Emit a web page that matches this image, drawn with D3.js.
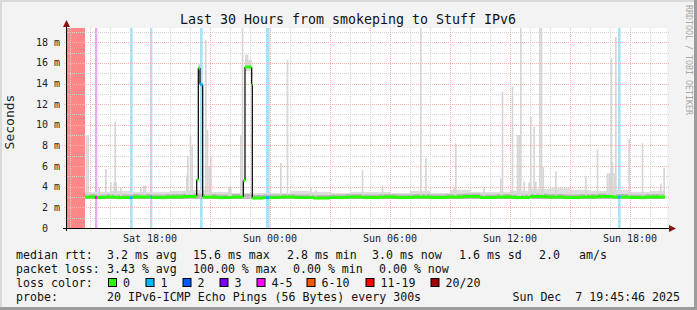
<!DOCTYPE html>
<html>
<head>
<meta charset="utf-8">
<script src="https://cdn.jsdelivr.net/npm/d3@7"></script>
<style>
body { margin: 0; background: #f3f3f3; }
svg { display: block; }
text { font-family: "DejaVu Sans Mono", monospace; }
</style>
</head>
<body>
<div id="chart"></div>
<script>
// times are "day HH:MM" in Dec 2025
var timeStart = "06 13:51", timeEnd = "07 19:51";

var lossLabels = ["0", "1", "2", "3", "4-5", "6-10", "11-19", "20/20"];
var lossColors = ["#26ff00", "#00b8ff", "#0059ff", "#7e00ff", "#ff00ff", "#ff5500", "#ff0000", "#a10000"];

// [from, to, loss category]
var lossEvents = [
  ["06 13:51", "06 14:45", 7],
  ["06 15:15", "06 15:22", 4],
  ["06 17:00", "06 17:08", 1],
  ["06 18:01", "06 18:07", 1],
  ["06 20:30", "06 20:38", 1],
  ["06 23:48", "06 23:59", 1],
  ["07 17:24", "07 17:32", 1]
];

// median rtt in ms (step)
var median = [
  ["06 14:45", 3.0], ["06 15:15", 2.95], ["06 15:45", 3.0], ["06 16:20", 2.95], ["06 17:10", 3.0],
  ["06 18:05", 2.95], ["06 18:50", 3.0], ["06 19:40", 3.05], ["06 20:20", 4.7], ["06 20:25", 15.5],
  ["06 20:30", 13.9], ["06 20:38", 3.0], ["06 21:20", 2.95], ["06 22:05", 3.0], ["06 22:40", 4.6],
  ["06 22:45", 15.6], ["06 23:05", 13.9], ["06 23:07", 2.9], ["06 23:40", 2.95], ["07 00:30", 3.0],
  ["07 01:15", 2.95], ["07 02:10", 2.9], ["07 03:00", 2.95], ["07 03:50", 3.0], ["07 04:40", 2.95],
  ["07 05:30", 3.0], ["07 06:20", 2.95], ["07 07:10", 3.0], ["07 08:00", 2.95], ["07 08:50", 3.0],
  ["07 09:40", 3.05], ["07 10:30", 2.95], ["07 11:20", 3.0], ["07 12:10", 2.95], ["07 13:00", 3.05],
  ["07 13:50", 3.0], ["07 14:40", 2.95], ["07 15:30", 3.0], ["07 16:20", 3.05], ["07 17:10", 3.0],
  ["07 18:00", 2.95], ["07 18:50", 3.0], ["07 19:45", 3.0]
];

// upper edge of the dense smoke band (ms)
var bandTop = [
  ["06 14:45", 3.5], ["06 16:00", 3.6], ["06 17:00", 3.5], ["06 18:00", 3.5], ["06 19:00", 3.6],
  ["06 20:00", 3.7], ["06 21:00", 3.5], ["06 22:00", 3.4], ["06 23:00", 3.4], ["07 00:00", 3.4],
  ["07 01:00", 3.6], ["07 02:00", 3.5], ["07 03:00", 3.4], ["07 04:00", 3.5], ["07 05:00", 3.5],
  ["07 06:00", 3.4], ["07 07:00", 3.6], ["07 08:00", 3.4], ["07 09:00", 3.7], ["07 10:00", 3.5],
  ["07 11:00", 3.5], ["07 12:00", 3.6], ["07 13:00", 3.8], ["07 14:00", 3.9], ["07 15:00", 3.7],
  ["07 16:00", 3.6], ["07 17:00", 3.7], ["07 18:00", 3.5], ["07 19:00", 3.6], ["07 19:45", 3.6]
];

// smoke excursions: [time, low ms, high ms]
var smoke = [
  ["06 14:47", 3.0, 9.0], ["06 14:52", 3.0, 9.0], ["06 15:25", 3.0, 3.9], ["06 15:45", 3.0, 5.7],
  ["06 16:00", 3.0, 4.4], ["06 16:10", 3.0, 4.4], ["06 16:13", 3.0, 10.3], ["06 16:16", 3.0, 4.4],
  ["06 16:30", 3.0, 3.9], ["06 17:30", 3.0, 3.9], ["06 17:39", 3.0, 4.1], ["06 17:44", 3.0, 4.1],
  ["06 19:48", 3.0, 5.1], ["06 19:51", 3.0, 7.0], ["06 19:59", 3.0, 9.0], ["06 20:04", 3.0, 8.0],
  ["06 20:25", 14.8, 15.9], ["06 20:45", 3.0, 18.2], ["06 20:50", 3.0, 9.5], ["06 20:55", 3.0, 6.0],
  ["06 21:00", 3.0, 7.0], ["06 21:55", 3.0, 4.0], ["06 22:00", 3.0, 4.0], ["06 22:30", 3.0, 9.0],
  ["06 22:35", 3.0, 19.5], ["06 22:45", 15.2, 16.8], ["06 22:50", 15.2, 16.8], ["06 22:55", 15.2, 16.3],
  ["06 23:00", 15.2, 16.3], ["07 00:30", 3.0, 6.3], ["07 00:50", 3.0, 16.3], ["07 02:00", 3.0, 3.9],
  ["07 02:15", 3.0, 3.7], ["07 04:35", 3.0, 5.6], ["07 05:35", 3.0, 4.1], ["07 07:30", 3.0, 19.5],
  ["07 07:45", 3.0, 6.8], ["07 09:10", 3.0, 4.0], ["07 09:15", 3.0, 8.2], ["07 10:40", 3.0, 3.9],
  ["07 11:30", 3.0, 4.8], ["07 11:35", 3.0, 13.2], ["07 12:05", 3.0, 13.7], ["07 12:20", 3.0, 9.0],
  ["07 12:25", 3.0, 9.0], ["07 12:30", 3.0, 19.5], ["07 12:40", 3.0, 4.5], ["07 12:55", 3.0, 4.4],
  ["07 13:00", 3.0, 10.8], ["07 13:10", 3.0, 9.8], ["07 13:15", 3.0, 4.5], ["07 13:27", 3.0, 19.5],
  ["07 13:32", 3.0, 19.5], ["07 13:37", 3.0, 5.9], ["07 14:15", 3.0, 5.5], ["07 15:45", 3.0, 5.0],
  ["07 16:20", 3.0, 7.6], ["07 16:50", 3.0, 5.3], ["07 16:55", 3.0, 5.3], ["07 17:00", 3.0, 5.3],
  ["07 17:02", 3.0, 16.5], ["07 17:05", 3.0, 6.4], ["07 17:10", 3.0, 5.3], ["07 17:15", 3.0, 18.5],
  ["07 17:55", 3.0, 8.6], ["07 18:35", 3.0, 8.2], ["07 19:30", 3.0, 4.3], ["07 19:40", 3.0, 5.8]
];

var yTicks = [0, 2, 4, 6, 8, 10, 12, 14, 16, 18];

var legendRtt = [["median rtt:", 16], ["3.2 ms avg", 107], ["15.6 ms max", 193], ["2.8 ms min", 287],
  ["3.0 ms now", 372], ["1.6 ms sd", 459], ["2.0", 539], ["am/s", 579]];
var legendLoss = [["packet loss:", 16], ["3.43 % avg", 107], ["100.00 % max", 193], ["0.00 % min", 293], ["0.00 % now", 379]];
var legendBoxX = [108, 145.5, 182.5, 219.5, 256.5, 306.5, 365.5, 430.5];

function tp(s) {
  var p = s.split(/[ :]/);
  return new Date(Date.UTC(2025, 11, +p[0], +p[1], +p[2]));
}

var W = 697, H = 310;
var svg = d3.select("#chart").append("svg").attr("width", W).attr("height", H);

// frame
svg.append("rect").attr("width", W).attr("height", H).attr("fill", "#f3f3f3");
svg.append("rect").attr("x", 0).attr("y", 0).attr("width", W).attr("height", 2).attr("fill", "#dadada");
svg.append("rect").attr("x", 0).attr("y", 0).attr("width", 2).attr("height", H).attr("fill", "#dadada");
svg.append("rect").attr("x", W - 3).attr("y", 0).attr("width", 3).attr("height", H).attr("fill", "#9c9c9c");
svg.append("rect").attr("x", 0).attr("y", H - 3).attr("width", W).attr("height", 3).attr("fill", "#9c9c9c");

var x = d3.scaleUtc().domain([tp(timeStart), tp(timeEnd)]).range([67, 667]);
var y = d3.scaleLinear().domain([0, 19.38]).range([228, 28]).clamp(true);
var step = 5 * 60 * 1000;

svg.append("rect").attr("x", 67).attr("y", 28).attr("width", 600).attr("height", 200).attr("fill", "#fff");

// loss bars
var barColor = {1: "#a6e3fb", 4: "#f3a3ff", 7: "#ff8787"};
svg.append("g").selectAll("rect").data(lossEvents).enter().append("rect")
  .attr("x", function(d) { return x(tp(d[0])); })
  .attr("y", 28)
  .attr("width", function(d) { return x(tp(d[1])) - x(tp(d[0])); })
  .attr("height", 200)
  .attr("fill", function(d) { return barColor[d[2]]; });

// smoke band
var bandArea = d3.area().curve(d3.curveStepAfter)
  .x(function(d) { return x(tp(d[0])); })
  .y0(y(2.8)).y1(function(d) { return y(d[1]); });
svg.append("path").datum(bandTop).attr("d", bandArea).attr("fill", "#dedede");
var innerArea = d3.area().curve(d3.curveStepAfter)
  .x(function(d) { return x(tp(d[0])); })
  .y0(y(2.82)).y1(function(d) { return y(d[1] + 0.3); });
svg.append("path").datum(median.filter(function(d) { return d[1] < 4; })).attr("d", innerArea).attr("fill", "#b8b8b8");

svg.append("g").selectAll("rect").data(smoke).enter().append("rect")
  .attr("x", function(d) { return x(tp(d[0])); })
  .attr("y", function(d) { return y(d[2]); })
  .attr("width", function(d) { return x(new Date(+tp(d[0]) + step)) - x(tp(d[0])); })
  .attr("height", function(d) { return y(d[1]) - y(d[2]); })
  .attr("fill", "#d6d6d6");

// grid
var grid = svg.append("g").attr("shape-rendering", "crispEdges");
d3.range(1, 20).forEach(function(v) {
  var major = v % 2 === 0;
  grid.append("line").attr("x1", 64).attr("x2", 669).attr("y1", y(v) + 0.5).attr("y2", y(v) + 0.5)
    .attr("stroke", major ? "#f7b2b2" : "#d4d4d4").attr("stroke-dasharray", "1,1");
});
x.ticks(d3.utcHour.every(1)).forEach(function(t) {
  var major = t.getUTCHours() % 3 === 0;
  grid.append("line").attr("x1", Math.round(x(t)) + 0.5).attr("x2", Math.round(x(t)) + 0.5).attr("y1", 28).attr("y2", 231)
    .attr("stroke", major ? "#f7b2b2" : "#d4d4d4").attr("stroke-dasharray", "1,1");
});

// median line
function lossAt(t) {
  var c = 0;
  lossEvents.forEach(function(e) { if (t >= tp(e[0]) && t < tp(e[1])) c = e[2]; });
  return c;
}
var med = svg.append("g");
for (var i = 1; i < median.length - 1; i++) {
  med.append("line").attr("x1", x(tp(median[i][0]))).attr("x2", x(tp(median[i][0])))
    .attr("y1", y(median[i - 1][1])).attr("y2", y(median[i][1]))
    .attr("stroke", "#111").attr("stroke-width", 1.3);
}
for (var j = 0; j < median.length - 1; j++) {
  var t0 = tp(median[j][0]), t1 = tp(median[j + 1][0]);
  // split segment where loss colour changes
  var cuts = [t0];
  lossEvents.forEach(function(e) {
    [tp(e[0]), tp(e[1])].forEach(function(c) { if (c > t0 && c < t1) cuts.push(c); });
  });
  cuts.push(t1);
  cuts.sort(function(a, b) { return a - b; });
  for (var k = 0; k < cuts.length - 1; k++) {
    med.append("line").attr("x1", x(cuts[k])).attr("x2", x(cuts[k + 1]))
      .attr("y1", y(median[j][1])).attr("y2", y(median[j][1]))
      .attr("stroke", lossColors[lossAt(cuts[k])]).attr("stroke-width", 3);
  }
}

// axes
var axis = svg.append("g").attr("shape-rendering", "crispEdges");
axis.append("line").attr("x1", 66.5).attr("x2", 66.5).attr("y1", 24).attr("y2", 231).attr("stroke", "#000");
axis.append("line").attr("x1", 63).attr("x2", 670).attr("y1", 228.5).attr("y2", 228.5).attr("stroke", "#000");
svg.append("path").attr("d", "M63,27 L66.5,20 L70,27 Z").attr("fill", "#8b1010");
svg.append("path").attr("d", "M669,225 L676,228.5 L669,232 Z").attr("fill", "#8b1010");

svg.append("g").selectAll("text").data(yTicks).enter().append("text")
  .attr("x", function(d) { return d === 0 ? 48 : 60; })
  .attr("y", function(d) { return y(d) + 3.5; })
  .attr("text-anchor", "end").attr("font-size", "10px").attr("fill", "#222")
  .text(function(d) { return d === 0 ? "0" : d + " m"; });

var fmt = d3.utcFormat("%a %H:%M");
svg.append("g").selectAll("text").data(x.ticks(d3.utcHour.every(6))).enter().append("text")
  .attr("x", function(d) { return x(d); }).attr("y", 241.5)
  .attr("text-anchor", "middle").attr("font-size", "10px").attr("fill", "#222")
  .text(function(d) { return fmt(d); });

svg.append("text").attr("transform", "translate(14,122) rotate(-90)")
  .attr("text-anchor", "middle").attr("font-size", "13px").attr("fill", "#222").text("Seconds");

svg.append("text").attr("x", 348).attr("y", 23.5).attr("text-anchor", "middle")
  .attr("font-size", "13.3px").attr("fill", "#111").text("Last 30 Hours from smokeping to Stuff IPv6");

svg.append("text").attr("transform", "translate(685.5,5) rotate(90)")
  .attr("font-size", "8.3px").attr("fill", "#a8a8a8").text("RRDTOOL / TOBI OETIKER");

// legend
var leg = svg.append("g").attr("font-size", "11.6px").attr("fill", "#111");
legendRtt.forEach(function(d) { leg.append("text").attr("x", d[1]).attr("y", 258.5).text(d[0]); });
legendLoss.forEach(function(d) { leg.append("text").attr("x", d[1]).attr("y", 272.5).text(d[0]); });
leg.append("text").attr("x", 16).attr("y", 286.5).text("loss color:");
lossLabels.forEach(function(l, i) {
  leg.append("rect").attr("x", legendBoxX[i] + 0.5).attr("y", 278.5).attr("width", 8).attr("height", 8)
    .attr("fill", lossColors[i]).attr("stroke", "#000");
  leg.append("text").attr("x", legendBoxX[i] + 15).attr("y", 286.5).text(l);
});
leg.append("text").attr("x", 16).attr("y", 300.5).text("probe:");
leg.append("text").attr("x", 107).attr("y", 300.5).text("20 IPv6-ICMP Echo Pings (56 Bytes) every 300s");
leg.append("text").attr("x", 680).attr("y", 300.5).attr("text-anchor", "end").attr("xml:space", "preserve")
  .style("white-space", "pre").text("Sun Dec  7 19:45:46 2025");
</script>
</body>
</html>
